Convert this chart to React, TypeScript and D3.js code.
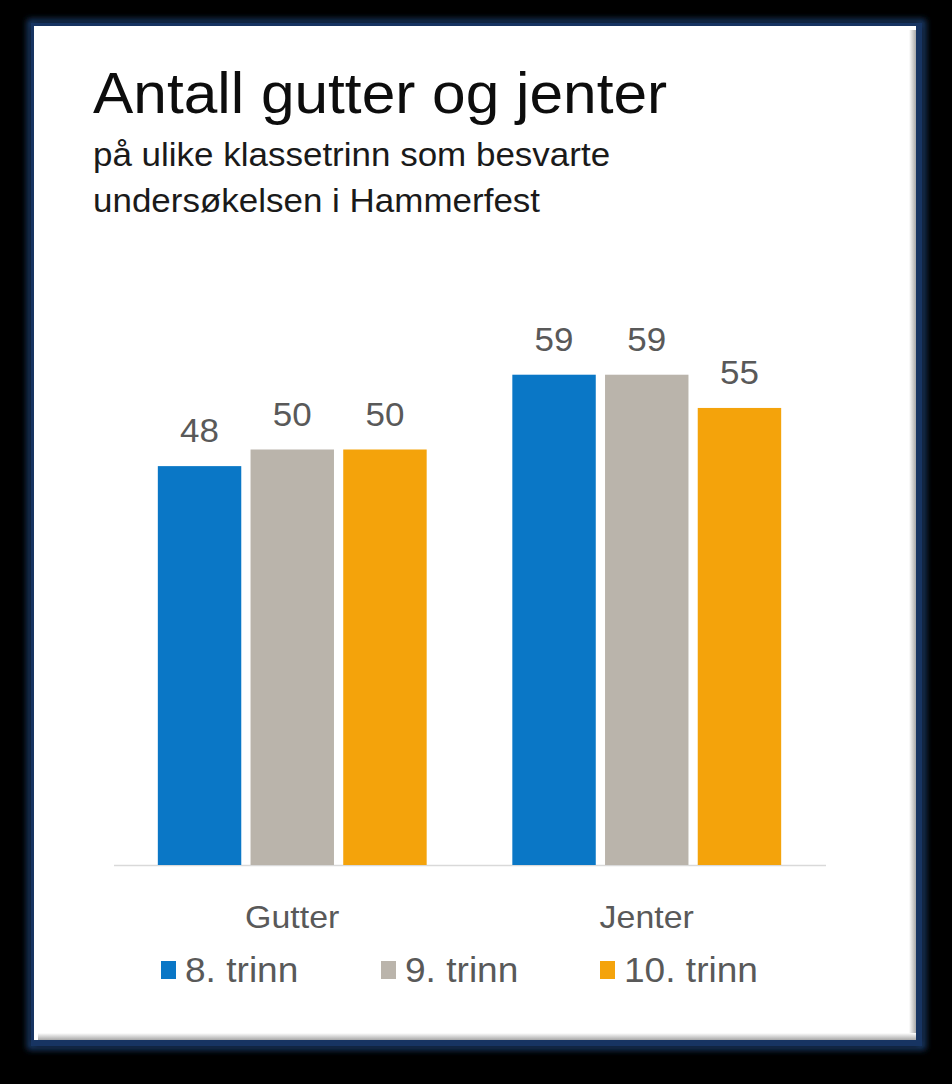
import React from "react";
import * as d3 from "d3";

const categories = ["Gutter", "Jenter"];
const seriesNames = ["8. trinn", "9. trinn", "10. trinn"];
const seriesColors = ["#0A77C6", "#BAB4AB", "#F4A30B"];
const values8 = [48, 59];
const values9 = [50, 59];
const values10 = [50, 55];
const seriesValues = [values8, values9, values10];

const W = 952;
const H = 1084;
const FONT = "'Liberation Sans', Arial, sans-serif";
const SX = 1.06;

function T(props: {
  x: number;
  y: number;
  size: number;
  fill: string;
  anchor?: "start" | "middle" | "end";
  children: React.ReactNode;
}) {
  return (
    <g transform={`translate(${props.x},${props.y}) scale(${SX},1)`}>
      <text
        x={0}
        y={0}
        textAnchor={props.anchor || "start"}
        fontFamily={FONT}
        fontSize={props.size}
        fill={props.fill}
      >
        {props.children}
      </text>
    </g>
  );
}

export default function App() {
  const x0 = d3.scaleBand<string>().domain(categories).range([115, 824]).paddingInner(0).paddingOuter(0);
  const x1 = d3
    .scaleBand<string>()
    .domain(seriesNames)
    .range([0, x0.bandwidth()])
    .paddingInner(0.1)
    .paddingOuter(0.462);
  const y = d3.scaleLinear().domain([0, 70]).range([865, 865 - 70 * 8.31]);

  const legendX = [161, 381, 600];

  return (
    <svg width={W} height={H} style={{ position: "absolute", left: 0, top: 0 }}>
      <defs>
        <filter id="glow" x="-10%" y="-10%" width="120%" height="120%">
          <feGaussianBlur stdDeviation="3" />
        </filter>
        <linearGradient id="rs" x1="0" x2="1" y1="0" y2="0">
          <stop offset="0" stopColor="#ffffff" />
          <stop offset="1" stopColor="#a8a8a8" />
        </linearGradient>
        <linearGradient id="bs" x1="0" x2="0" y1="0" y2="1">
          <stop offset="0" stopColor="#ffffff" />
          <stop offset="1" stopColor="#a8a8a8" />
        </linearGradient>
      </defs>
      <rect x={0} y={0} width={W} height={H} fill="#000" />
      <rect x={30} y={22} width={893} height={1025} fill="none" stroke="#1E4479" strokeWidth={5} filter="url(#glow)" />
      <rect x={31} y={23} width={891} height={1023} fill="#173462" />
      <rect x={34} y={26} width={882} height={1014} fill="#fff" />
      <rect x={909} y={30} width={7} height={1010} fill="url(#rs)" />
      <rect x={38} y={1033} width={878} height={7} fill="url(#bs)" />

      <T x={93} y={113} size={57} fill="#0d0d0d">
        Antall gutter og jenter
      </T>
      <T x={93} y={166} size={33} fill="#1a1a1a">
        på ulike klassetrinn som besvarte
      </T>
      <T x={93} y={212} size={33} fill="#1a1a1a">
        undersøkelsen i Hammerfest
      </T>

      <line x1={114} x2={826} y1={865.5} y2={865.5} stroke="#D9D9D9" strokeWidth={1.5} />

      {categories.map((c, ci) => (
        <g key={c} transform={`translate(${x0(c)},0)`}>
          {seriesNames.map((s, si) => {
            const v = seriesValues[si][ci];
            const bx = x1(s)!;
            return (
              <g key={s}>
                <rect x={bx} y={y(v)} width={x1.bandwidth()} height={y(0) - y(v)} fill={seriesColors[si]} />
                <T x={bx + x1.bandwidth() / 2} y={y(v) - 24} anchor="middle" size={33} fill="#595959">
                  {v}
                </T>
              </g>
            );
          })}
          <T x={x0.bandwidth() / 2} y={928} anchor="middle" size={32} fill="#595959">
            {c}
          </T>
        </g>
      ))}

      {seriesNames.map((s, si) => (
        <g key={s}>
          <rect x={legendX[si]} y={961} width={15} height={18} fill={seriesColors[si]} />
          <T x={legendX[si] + 24} y={982} size={35} fill="#595959">
            {s}
          </T>
        </g>
      ))}
    </svg>
  );
}
